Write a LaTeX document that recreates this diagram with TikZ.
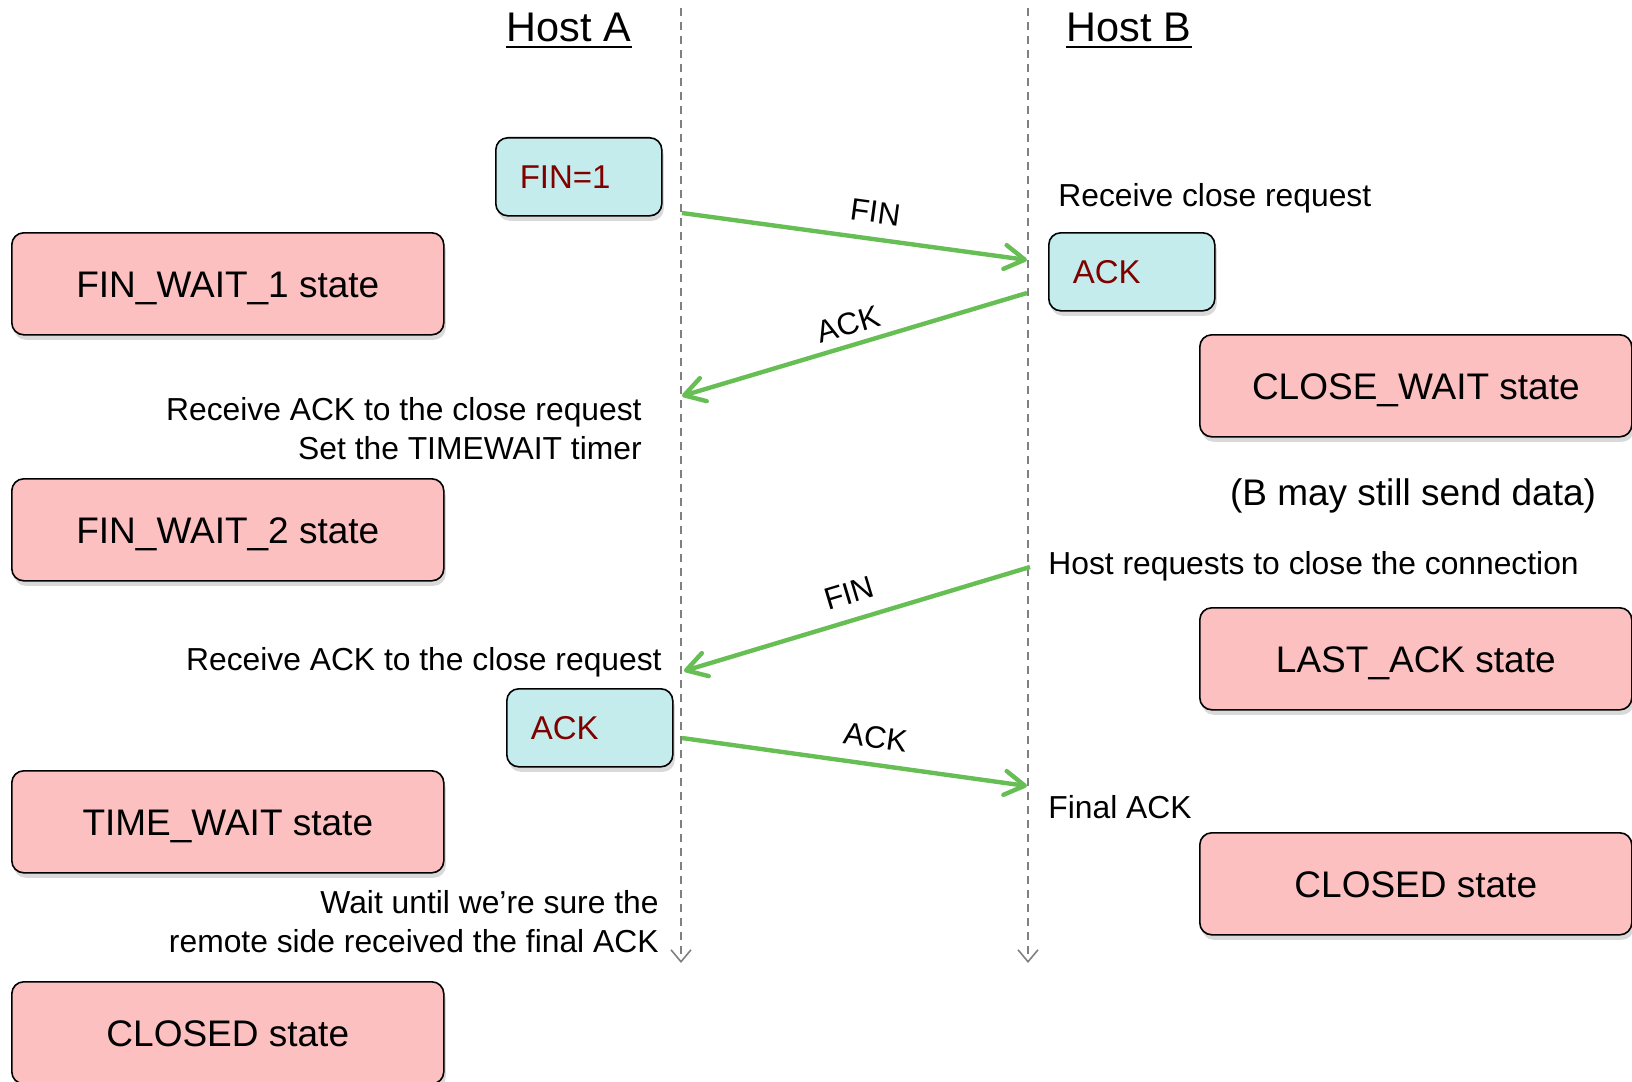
\documentclass[tikz,border=0pt]{standalone}
\usepackage{fontspec}
\setmainfont{Liberation Sans}
\usetikzlibrary{arrows.meta,shadows}
\definecolor{statepink}{RGB}{252,192,192}
\definecolor{pktcyan}{RGB}{197,236,236}
\definecolor{pktred}{RGB}{128,0,0}
\definecolor{msggreen}{RGB}{102,190,84}
\tikzset{>={Straight Barb[length=10pt,width=12pt,round]}}

\begin{document}
\begin{tikzpicture}[x=0.5pt,y=-0.5pt,
   st/.style={draw,rounded corners=6pt,line width=0.8pt,fill=statepink,minimum width=216pt,minimum height=51pt,anchor=north west,inner sep=0,text height=13.3pt,text depth=0pt,font=\fontsize{18.5}{22}\selectfont,drop shadow={shadow xshift=1pt,shadow yshift=-2.5pt,opacity=0.3}},
   pkt/.style={draw,rounded corners=6pt,line width=0.8pt,fill=pktcyan,text width=59pt,inner xsep=12pt,inner ysep=0,minimum height=39pt,text height=11.8pt,text depth=0pt,anchor=north west,align=left,text=pktred,font=\fontsize{16.5}{20}\selectfont,drop shadow={shadow xshift=1pt,shadow yshift=-2.5pt,opacity=0.3}},
   msg/.style={->,draw=msggreen,line width=2.2pt},
   life/.style={draw=black!50,dash pattern=on 4pt off 3pt,line width=0.8pt,-{Straight Barb[length=6pt,width=10pt]}},
   host/.style={font=\fontsize{20.7}{24}\selectfont,inner sep=0,anchor=base},
   note/.style={font=\fontsize{15.9}{19.5}\selectfont,inner sep=0},
   mlbl/.style={font=\fontsize{15.5}{18}\selectfont,sloped,inner sep=2pt}]
  \useasboundingbox (0,0) rectangle (1632,1081);
  % hosts and lifelines
  \node[host] (hosta) at (569,42) {Host A};
  \node[host] (hostb) at (1129,42) {Host B};
  \draw[line width=1.3pt] ([yshift=-2.5pt]hosta.base west) -- ([yshift=-2.5pt]hosta.base east);
  \draw[line width=1.3pt] ([yshift=-2.5pt]hostb.base west) -- ([yshift=-2.5pt]hostb.base east);
  \coordinate (atop) at (681,8);
  \coordinate (abot) at (681,963);
  \coordinate (btop) at (1028,8);
  \coordinate (bbot) at (1028,963);
  \draw[life] (atop) -- (abot);
  \draw[life] (btop) -- (bbot);
  % host A side
  \node[pkt] (finbox) at (495,137) {FIN=1};
  \node[st] (fwone) at (11,232) {FIN\_WAIT\_1 state};
  \node[note,align=right,anchor=east] (recvack) at (642,429) {Receive ACK to the close request\\Set the TIMEWAIT timer};
  \node[st] (fwtwo) at (11,478) {FIN\_WAIT\_2 state};
  \node[note,anchor=east] (recvacktwo) at (662,662) {Receive ACK to the close request};
  \node[pkt] (ackbox) at (506,688) {ACK};
  \node[st] (timewait) at (11,770) {TIME\_WAIT state};
  \node[note,align=right,anchor=east] (waitnote) at (659,922) {Wait until we’re sure the\\remote side received the final ACK};
  \node[st] (closeda) at (11,981) {CLOSED state};
  % host B side
  \node[note,anchor=west] (recvclose) at (1058,198) {Receive close request};
  \node[pkt] (ackb) at (1048,232) {ACK};
  \node[st] (closewait) at (1199,334) {CLOSE\_WAIT state};
  \node[note,font=\fontsize{18.5}{22}\selectfont] (maysend) at (1413,496) {(B may still send data)};
  \node[note,anchor=west] (hostreq) at (1048,566) {Host requests to close the connection};
  \node[st] (lastack) at (1199,607) {LAST\_ACK state};
  \node[note,anchor=west] (finalack) at (1048,807) {Final ACK};
  \node[st] (closedb) at (1199,832) {CLOSED state};
  % messages
  \coordinate (aone) at (682,213);
  \coordinate (bone) at (1027,260);
  \coordinate (btwo) at (1027,293);
  \coordinate (atwo) at (682,396);
  \coordinate (bthree) at (1030,567);
  \coordinate (athree) at (684,671);
  \coordinate (afour) at (682,738);
  \coordinate (bfour) at (1027,786);
  \draw[msg] (aone) -- node[mlbl,pos=0.55,above=5pt] {FIN} (bone);
  \draw[msg] (btwo) -- node[mlbl,pos=0.5,above=2pt] {ACK} (atwo);
  \draw[msg] (bthree) -- node[mlbl,pos=0.5,above=5pt] {FIN} (athree);
  \draw[msg] (afour) -- node[mlbl,pos=0.55,above=5pt] {ACK} (bfour);
\end{tikzpicture}
\end{document}
